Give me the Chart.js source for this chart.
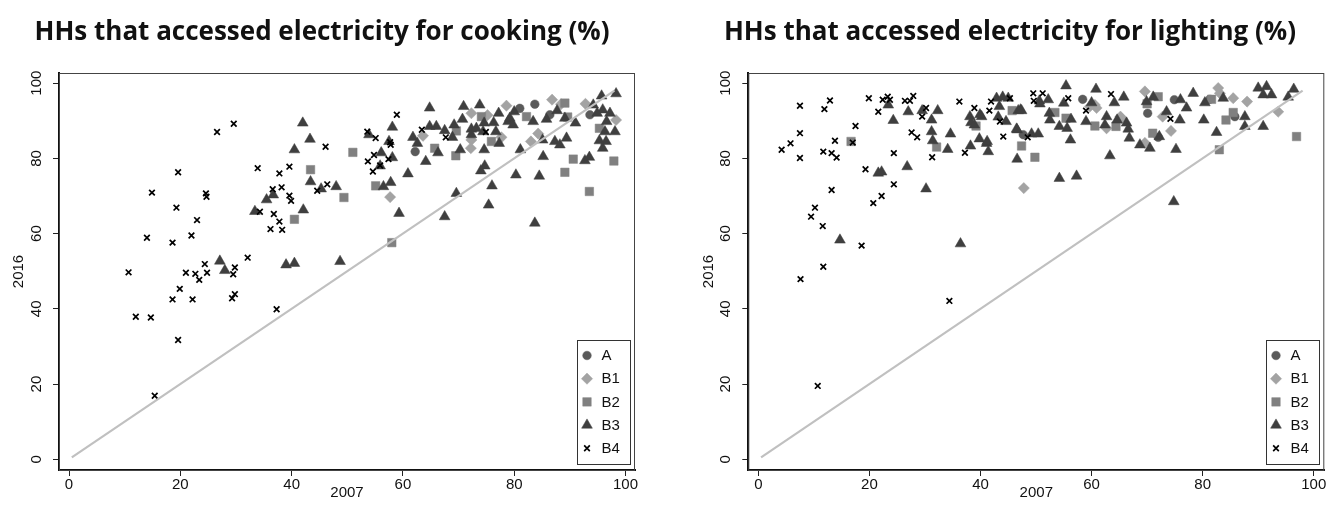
<!DOCTYPE html>
<html>
<head>
<meta charset="utf-8">
<script src="https://cdn.jsdelivr.net/npm/chart.js@4.4.1/dist/chart.umd.min.js"></script>
<style>
  body { margin: 0; background: #fff; }
  .panel { position: absolute; top: 0; width: 669px; height: 508px; }
</style>
</head>
<body>
<div class="panel" style="left:0"><canvas id="cooking" width="669" height="508"></canvas></div>
<div class="panel" style="left:669px"><canvas id="lighting" width="669" height="508"></canvas></div>
<script>
// ---- data: [share in 2007, share in 2016] per household group ----
const groupLabels = ['A', 'B1', 'B2', 'B3', 'B4']
const tickValues = [0, 20, 40, 60, 80, 100]
const diagonal = [0.5, 98]

const cookingA = [[81.0,93.3],[83.7,94.4],[86.4,91.6],[93.6,91.6],[62.2,81.8]]
const cookingB1 = [[57.7,69.7],[63.6,86.0],[72.2,82.7],[72.3,92.0],[75.2,91.5],[77.7,85.6],[78.6,94.0],
  [83.0,84.5],[84.3,86.6],[86.8,95.6],[88.4,94.4],[92.8,94.5],[98.3,90.2],[72.3,84.9]]
const cookingB2 = [[43.4,77.0],[40.5,63.8],[51.0,81.6],[49.4,69.6],[55.1,72.7],[58.0,57.6],[65.7,82.7],
  [69.5,80.7],[74.1,91.1],[75.9,84.5],[82.2,91.1],[89.1,94.7],[89.6,91.0],[90.6,79.8],[89.1,76.3],
  [93.5,71.2],[95.3,88.0],[97.9,79.3],[69.6,87.3]]
const cookingB3 = [[42.0,89.4],[43.3,85.1],[40.5,82.3],[43.4,73.8],[45.3,71.9],[48.0,72.5],[42.1,66.3],
  [35.5,69.0],[36.7,70.3],[33.4,65.9],[27.1,52.7],[28.0,50.2],[39.0,51.7],[40.5,52.1],[48.7,52.6],
  [59.3,65.4],[57.8,73.6],[56.5,72.5],[60.9,75.9],[58.1,80.2],[55.9,78.0],[56.1,81.5],[58.1,88.3],
  [53.9,86.3],[57.5,84.5],[64.8,93.4],[61.8,85.6],[64.1,79.2],[66.3,81.5],[62.6,84.0],[64.8,88.5],
  [66.0,88.5],[67.5,87.4],[68.9,85.6],[69.2,88.9],[70.7,90.4],[70.9,93.8],[73.8,94.2],[72.3,87.8],
  [72.3,86.3],[73.2,88.0],[74.6,89.4],[74.4,87.1],[76.3,89.5],[76.7,87.1],[77.2,92.0],[77.3,84.0],
  [70.3,82.3],[74.6,82.3],[69.6,70.7],[67.5,64.5],[75.4,67.6],[76.0,72.7],[74.7,78.0],[74.0,76.7],
  [78.9,89.8],[79.8,88.9],[80.0,92.4],[81.1,82.3],[80.3,75.6],[83.7,62.8],[84.5,75.3],[85.2,80.5],
  [83.4,89.8],[85.1,84.9],[85.8,90.4],[87.7,92.7],[87.3,84.5],[88.2,83.6],[89.4,85.4],[89.1,90.7],
  [91.0,89.4],[92.7,79.4],[93.5,80.3],[94.2,94.2],[95.7,96.6],[98.3,97.2],[95.9,92.9],[96.6,89.8],
  [96.3,87.1],[98.1,87.1],[95.3,84.7],[96.5,84.5],[95.9,82.7],[94.9,92.0],[97.2,92.0],[79.2,90.7]]
const cookingB4 = [[14.9,70.9],[19.6,76.3],[19.3,66.9],[23.0,63.6],[14.0,58.9],[18.6,57.6],[22.0,59.5],
  [24.6,70.7],[24.7,69.8],[26.6,87.0],[29.6,89.2],[33.9,77.4],[37.8,76.0],[39.6,77.8],[46.1,83.1],
  [38.2,72.3],[36.6,71.8],[39.6,70.1],[39.9,68.7],[34.3,65.8],[36.8,65.2],[37.8,63.2],[36.2,61.2],
  [38.3,61.0],[44.6,71.4],[46.4,73.1],[32.1,53.6],[10.7,49.7],[12.0,37.9],[14.7,37.7],[15.4,16.9],
  [18.6,42.5],[19.9,45.3],[19.6,31.7],[21.0,49.6],[22.2,42.5],[22.7,49.3],[23.4,47.7],[24.4,51.9],
  [24.8,49.6],[29.5,49.2],[29.8,51.0],[29.3,42.8],[29.8,43.9],[37.3,39.9],[58.9,91.6],[53.6,87.1],
  [55.1,85.4],[63.4,87.6],[67.7,85.6],[74.9,87.0],[57.7,84.3],[57.8,83.6],[54.8,80.9],[57.4,79.8],
  [53.7,79.2],[55.9,78.1],[54.6,76.5]]

const lightingA = [[58.4,95.7],[70.1,92.0],[74.9,95.6],[72.0,85.6],[85.8,91.1],[81.3,95.7],[47.7,86.3]]
const lightingB1 = [[47.8,72.1],[60.6,94.2],[60.9,93.4],[62.7,88.0],[65.4,90.7],[69.6,97.8],[69.6,84.1],
  [72.8,91.1],[74.3,87.3],[82.8,98.7],[83.1,97.3],[85.5,96.0],[88.0,95.1],[93.6,92.4],[59.7,93.8],
  [65.2,91.1]]
const lightingB2 = [[16.7,84.5],[32.1,83.0],[39.2,88.6],[45.7,92.7],[47.4,83.3],[49.8,80.3],[53.4,92.2],
  [55.4,90.7],[60.6,88.6],[64.4,88.5],[72.0,96.4],[70.0,94.5],[71.0,86.7],[81.6,95.7],[84.2,90.2],
  [85.5,92.2],[83.0,82.3],[96.9,85.8]]
const lightingB3 = [[14.7,58.3],[21.6,76.1],[22.2,76.4],[23.4,94.2],[24.3,90.1],[26.8,77.8],[27.0,92.4],
  [29.5,92.7],[30.2,71.9],[31.2,90.2],[31.2,87.1],[31.4,84.7],[32.3,92.7],[34.1,82.4],[34.6,86.5],
  [36.4,57.3],[38.2,83.3],[38.1,91.1],[38.3,89.5],[38.9,88.9],[39.8,85.2],[40.2,91.1],[41.1,84.0],
  [41.4,81.8],[42.9,96.0],[44.0,96.3],[43.4,93.8],[43.2,91.0],[45.0,96.0],[44.6,89.8],[46.5,87.8],
  [46.8,92.7],[46.6,79.8],[47.2,92.9],[46.6,87.6],[49.2,86.5],[50.4,86.5],[50.6,95.3],[52.2,95.6],
  [52.4,92.0],[52.5,90.2],[54.2,88.5],[55.4,99.3],[55.0,94.7],[56.3,90.4],[55.6,88.0],[56.2,84.9],
  [54.2,74.7],[57.3,75.3],[59.0,89.8],[60.0,94.8],[60.8,98.4],[62.7,91.1],[62.4,88.9],[63.3,80.7],
  [64.6,90.2],[64.1,94.8],[65.8,96.3],[66.3,89.4],[66.6,87.8],[66.8,85.4],[68.7,83.6],[70.5,82.7],
  [69.9,95.1],[71.1,96.3],[72.2,85.8],[73.5,92.4],[75.2,82.4],[75.9,90.2],[76.0,95.6],[77.1,93.4],
  [74.8,68.5],[78.3,97.3],[80.2,90.2],[80.4,94.8],[82.5,86.9],[83.7,96.0],[87.6,91.1],[87.6,88.5],
  [90.9,88.5],[90.0,98.7],[91.5,99.1],[90.9,96.9],[92.4,96.9],[96.4,98.4],[95.4,96.3],[39.9,91.6],
  [41.2,84.5],[47.4,92.7],[50.7,94.5]]
const lightingB4 = [[4.2,82.3],[5.8,84.0],[7.5,94.0],[7.5,86.7],[7.5,80.1],[9.5,64.5],[10.2,66.9],
  [11.6,62.0],[11.7,81.8],[11.9,93.1],[12.9,95.4],[13.2,81.4],[13.2,71.6],[14.1,80.2],[13.8,84.7],
  [17.0,84.2],[17.5,88.6],[19.3,77.1],[18.6,56.8],[19.9,96.0],[20.7,68.1],[22.2,70.0],[21.6,92.4],
  [22.4,95.6],[23.3,96.4],[23.7,95.6],[24.4,81.4],[24.4,73.1],[26.4,95.3],[27.3,95.3],[27.9,96.6],
  [27.6,86.9],[28.6,85.6],[29.5,91.1],[30.2,93.4],[31.3,80.3],[36.2,95.1],[37.2,81.5],[38.9,93.4],
  [41.6,92.7],[41.9,95.1],[43.5,89.8],[44.1,85.8],[45.3,96.0],[48.5,85.6],[49.5,97.3],[51.2,97.3],
  [49.6,95.3],[55.8,96.0],[59.0,92.7],[63.5,97.1],[74.2,90.5],[7.6,47.9],[11.7,51.2],[10.7,19.5],
  [34.4,42.1]]

// ---- look ----
const axisFont = { family: '"Liberation Sans", Arial, sans-serif', size: 15 }
const markers = {
    A:  { pointStyle: 'circle',   pointRadius: 4.3, color: '#5a5a5a' },
    B1: { pointStyle: 'rectRot',  pointRadius: 5.6, color: '#a3a3a3' },
    B2: { pointStyle: 'rect',     pointRadius: 6.0, color: '#808080' },
    B3: { pointStyle: 'triangle', pointRadius: 6.2, color: '#3f3f3f' },
    B4: { pointStyle: 'crossRot', pointRadius: 4.0, color: '#000000' }
}

const toPoints = (pairs) => pairs.map(([x, y]) => ({ x, y }))

// plot frame (top/right edges) drawn under the markers
const frame = {
    id: 'frame',
    beforeDatasetsDraw (chart) {
        const { ctx, chartArea: a } = chart
        ctx.save()
        ctx.strokeStyle = '#444'
        ctx.lineWidth = 1
        ctx.strokeRect(a.left + 0.5, a.top + 0.5, a.right - a.left - 1, a.bottom - a.top)
        ctx.restore()
    }
}

// boxed legend in the lower right corner of the plot
const legendBox = {
    id: 'legendBox',
    afterDraw (chart) {
        const { ctx, chartArea: a } = chart
        const w = 53, h = 124
        const x0 = Math.round(a.right - 5 - w), y0 = Math.round(a.bottom - 6 - h)
        ctx.save()
        ctx.fillStyle = '#fff'
        ctx.fillRect(x0, y0, w, h)
        ctx.strokeStyle = '#333'
        ctx.lineWidth = 1
        ctx.strokeRect(x0 + 0.5, y0 + 0.5, w, h)
        ctx.font = '15px "Liberation Sans", Arial, sans-serif'
        ctx.textBaseline = 'middle'
        groupLabels.forEach((label, i) => {
            const ds = chart.data.datasets.find(d => d.label === label)
            const y = y0 + 15.5 + i * 23.2
            ctx.fillStyle = ds.backgroundColor
            ctx.strokeStyle = ds.borderColor
            ctx.lineWidth = ds.borderWidth
            Chart.helpers.drawPoint(ctx, {
                pointStyle: ds.pointStyle, radius: ds.pointRadius,
                borderWidth: ds.borderWidth, rotation: 0
            }, x0 + 10, y)
            ctx.fillStyle = '#111'
            ctx.fillText(label, x0 + 24.5, y + 0.5)
        })
        ctx.restore()
    }
}

function makeChart (id, title, groups, box) {
    const datasets = groupLabels.map((label, i) => {
        const m = markers[label]
        const isCross = m.pointStyle === 'crossRot'
        return {
            type: 'scatter',
            label,
            data: toPoints(groups[i]),
            pointStyle: m.pointStyle,
            pointRadius: m.pointRadius,
            pointHoverRadius: m.pointRadius,
            backgroundColor: m.color,
            borderColor: m.color,
            borderWidth: isCross ? 1.7 : 0.5,
            order: 5 - i
        }
    })
    datasets.push({
        type: 'line',
        label: 'diagonal',
        data: diagonal.map(v => ({ x: v, y: v })),
        borderColor: '#c0c0c0',
        borderWidth: 2.2,
        pointRadius: 0,
        order: 0
    })

    const grid = { display: true, drawOnChartArea: false, drawTicks: true, tickLength: 6, color: '#222', lineWidth: 1 }
    const border = { display: true, color: '#111', width: 2 }

    return new Chart(document.getElementById(id), {
        data: { datasets },
        plugins: [frame, legendBox],
        options: {
            responsive: false,
            animation: false,
            devicePixelRatio: 1,
            events: [],
            layout: { padding: { left: box.padLeft, right: box.padRight, top: 0, bottom: 0 } },
            plugins: {
                legend: { display: false },
                tooltip: { enabled: false },
                title: {
                    display: true,
                    text: title,
                    color: '#111',
                    font: { family: '"Open Sans", Lato, sans-serif', weight: 'bold', size: 26 },
                    padding: { top: 16.5, bottom: 25.3 }
                }
            },
            scales: {
                x: {
                    type: 'linear',
                    min: -1.8,
                    max: box.xMax,
                    afterBuildTicks: s => { s.ticks = tickValues.map(v => ({ value: v })) },
                    afterFit: s => { s.height = 38 },
                    ticks: { font: axisFont, color: '#111', padding: 0, maxRotation: 0 },
                    grid,
                    border,
                    title: { display: true, text: '2007', font: axisFont, color: '#111', padding: { top: 0, bottom: 6 } }
                },
                y: {
                    type: 'linear',
                    min: -2.85,
                    max: 102.7,
                    afterBuildTicks: s => { s.ticks = tickValues.map(v => ({ value: v })) },
                    afterFit: s => { s.width = box.yWidth },
                    ticks: { font: axisFont, color: '#111', padding: 4, minRotation: 90, maxRotation: 90, crossAlign: 'center' },
                    grid,
                    border,
                    title: { display: true, text: '2016', font: axisFont, color: '#111', padding: { top: box.yTitlePad, bottom: 0 } }
                }
            }
        }
    })
}

makeChart('cooking', 'HHs that accessed electricity for cooking (%)',
    [cookingA, cookingB1, cookingB2, cookingB3, cookingB4],
    { padLeft: 9, padRight: 34, yWidth: 50, yTitlePad: 1, xMax: 101.7 })

makeChart('lighting', 'HHs that accessed electricity for lighting (%)',
    [lightingA, lightingB1, lightingB2, lightingB3, lightingB4],
    { padLeft: 26.7, padRight: 13.7, yWidth: 52.6, yTitlePad: 4, xMax: 101.9 })
</script>
</body>
</html>
